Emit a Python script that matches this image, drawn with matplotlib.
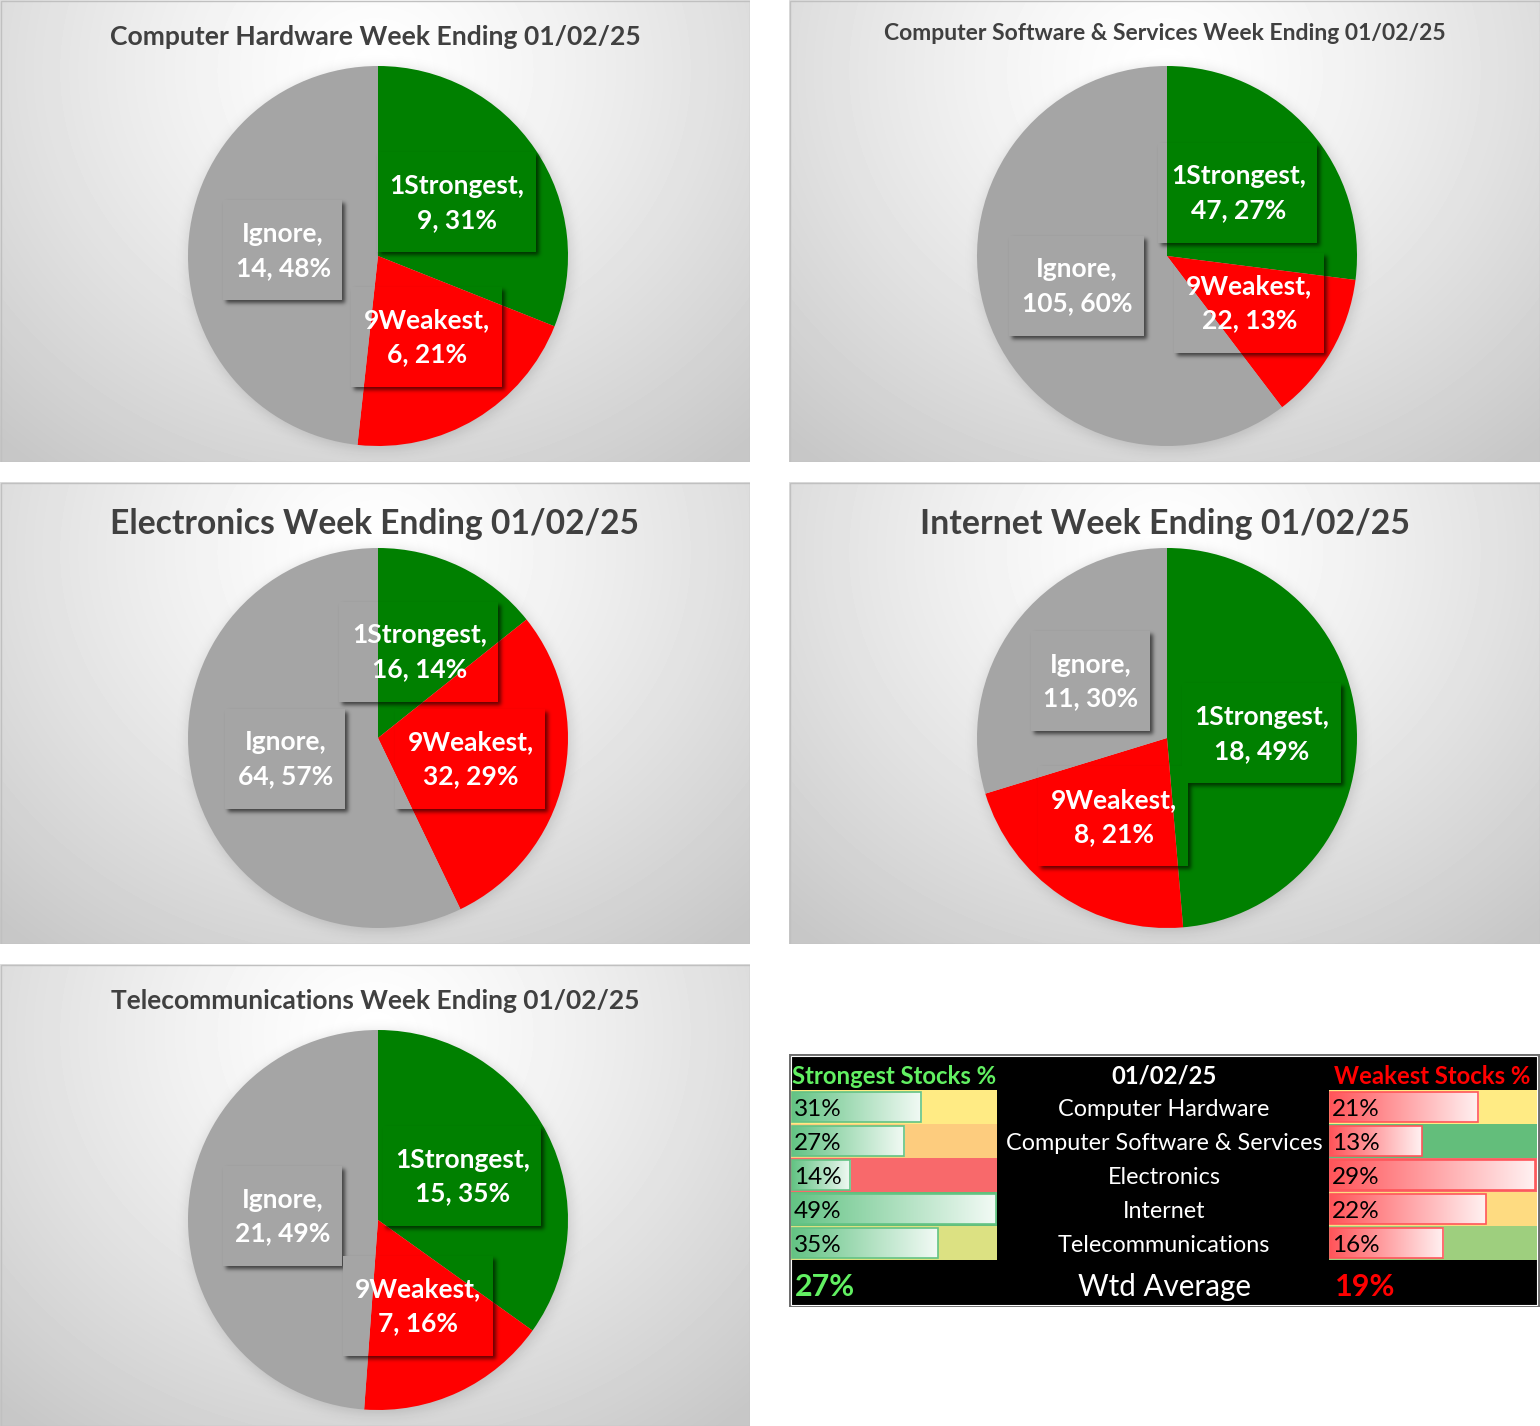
import numpy as np
import matplotlib
matplotlib.use("Agg")
import matplotlib.pyplot as plt
from matplotlib.patches import Rectangle

plt.rcParams['font.family'] = ['Lato', 'DejaVu Sans']

# ---- data ----
week = '01/02/25'
sectors = ['Computer Hardware', 'Computer Software & Services', 'Electronics',
           'Internet', 'Telecommunications']
slice_names = ['1Strongest', '9Weakest', 'Ignore']
strong_n = [9, 47, 16, 18, 15]
weak_n = [6, 22, 32, 8, 7]
ignore_n = [14, 105, 64, 11, 21]
strong_pct = [31, 27, 14, 49, 35]
weak_pct = [21, 13, 29, 21, 16]
ignore_pct = [48, 60, 57, 30, 49]
table_strong = [31, 27, 14, 49, 35]
table_weak = [21, 13, 29, 22, 16]
avg_strong = 27
avg_weak = 19

slice_colors = ['#008000', '#FF0000', '#A5A5A5']

W, H = 1540, 1426
fig = plt.figure(figsize=(W / 100, H / 100), dpi=100)
fig.patch.set_facecolor('white')


def px_axes(x, y, w, h):
    ax = fig.add_axes([x / W, 1 - (y + h) / H, w / W, h / H])
    ax.set_xlim(0, w)
    ax.set_ylim(h, 0)
    ax.axis('off')
    return ax


def blur(a, s):
    k = np.exp(-0.5 * (np.arange(-3 * s, 3 * s + 1) / s) ** 2)
    k /= k.sum()
    a = np.apply_along_axis(lambda r: np.convolve(r, k, mode='same'), 1, a)
    a = np.apply_along_axis(lambda c: np.convolve(c, k, mode='same'), 0, a)
    return a


panels = [(0, 0, 750, 462), (789, 0, 751, 462), (0, 482, 750, 462),
          (789, 482, 751, 462), (0, 964, 750, 462)]
title_widths = [530, 563, 531, 490, 531]
title_y = [37, 34, 42, 42, 37]
cx, cy, R = 378, 256, 190

pie_axes = []
titles = []
label_texts = []
for i, (x, y, w, h) in enumerate(panels):
    ax = px_axes(x, y, w, h)
    # background radial gradient
    yy, xx = np.mgrid[0:h, 0:w]
    d = np.sqrt(((xx - w / 2) / (w * 0.74)) ** 2 + ((yy - 70) / (h * 1.08)) ** 2)
    bg = 1.0 - 0.22 * np.clip(d, 0, 1) ** 1.3
    ax.imshow(bg, cmap='gray', vmin=0, vmax=1, extent=(0, w, h, 0),
              aspect='auto', interpolation='bilinear', zorder=0)
    # soft halo around pie
    circ = (((xx - cx - 1) ** 2 + (yy - cy - 2) ** 2) <= R ** 2).astype(float)
    halo = blur(circ, 7)
    rgba = np.zeros((h, w, 4))
    rgba[..., 3] = 0.16 * halo
    ax.imshow(rgba, extent=(0, w, h, 0), aspect='auto', zorder=0.5)

    vals = [strong_n[i], weak_n[i], ignore_n[i]]
    pcts = [strong_pct[i], weak_pct[i], ignore_pct[i]]
    labels = [f'{n},\n{v}, {p}%' for n, v, p in zip(slice_names, vals, pcts)]
    wedges, texts = ax.pie(vals, colors=slice_colors, startangle=-90,
                           counterclock=True, radius=R, center=(cx, cy),
                           labels=labels, labeldistance=0.5, frame=True,
                           wedgeprops=dict(linewidth=0),
                           textprops=dict(color='white', fontsize=19,
                                          fontweight='bold', linespacing=1.5))
    for t in texts:
        t.set_ha('center')
        t.set_va('center')
        t.set_multialignment('center')
        t.set_zorder(4)
    label_texts.append(texts)
    ttl = ax.text(w / 2, title_y[i], f'{sectors[i]} Week Ending {week}',
                  ha='center', va='center', fontsize=18, fontweight='bold',
                  color='#404040', zorder=5)
    titles.append(ttl)
    ax.add_patch(Rectangle((0.5, 0.5), w - 1, h - 1, fc='none', ec='#c0c0c0',
                           lw=1, zorder=6))
    ax.set_aspect('auto')
    ax.set_xlim(0, w)
    ax.set_ylim(h, 0)
    ax.axis('off')
    pie_axes.append(ax)

# ---- table ----
tx, ty, tw, th = 789, 1054, 751, 253
tax = px_axes(tx, ty, tw, th)
tax.add_patch(Rectangle((0.5, 0.5), tw - 1.5, th - 1, fc='black', ec='#6e6e6e', lw=1.6))
tax.add_patch(Rectangle((2.2, 2.2), tw - 5, th - 4.4, fc='none', ec='white', lw=0.8))

RED = np.array([248, 105, 107])
YEL = np.array([255, 235, 132])
GRN = np.array([99, 190, 123])


def scale_color(v, vals, low_good=False):
    lo, mid, hi = min(vals), float(np.percentile(vals, 50)), max(vals)
    c_lo, c_hi = (GRN, RED) if low_good else (RED, GRN)
    if v <= mid:
        c = c_lo + (YEL - c_lo) * (v - lo) / (mid - lo)
    else:
        c = YEL + (c_hi - YEL) * (v - mid) / (hi - mid)
    return c / 255


def data_bar(x0, top, L, color):
    col = np.array(matplotlib.colors.to_rgb(color))
    f = np.linspace(0, 1, 200)[:, None]
    grad = (col * (1 - f * 0.92) + np.ones(3) * f * 0.92)[None, :, :]
    tax.imshow(grad, extent=(x0, x0 + L, top + 32, top + 2), aspect='auto',
               interpolation='bilinear', zorder=2)
    tax.add_patch(Rectangle((x0, top + 2), L, 30, fc='none', ec=color, lw=1.2, zorder=3))


row0, rh = 36, 34
c1x, c1w = 2, 206
c3x, c3w = 540, 208
for j in range(len(sectors)):
    top = row0 + rh * j
    tax.add_patch(Rectangle((c1x, top), c1w, rh, fc=scale_color(table_strong[j], table_strong),
                            ec='none', zorder=1))
    tax.add_patch(Rectangle((c3x, top), c3w, rh,
                            fc=scale_color(table_weak[j], table_weak, low_good=True),
                            ec='none', zorder=1))
    data_bar(c1x + 1, top, (c1w - 2) * table_strong[j] / max(table_strong), '#63C384')
    data_bar(c3x + 1, top, (c3w - 3) * table_weak[j] / max(table_weak), '#FF555A')
    tax.text(c1x + 3, top + 19, f'{table_strong[j]}%', ha='left', va='center',
             fontsize=17.5, color='black', zorder=4)
    tax.text(c3x + 3, top + 19, f'{table_weak[j]}%', ha='left', va='center',
             fontsize=17.5, color='black', zorder=4)
    tax.text(375, top + 19, sectors[j], ha='center', va='center', fontsize=16.8,
             color='white', zorder=4)

tax.text(c1x + c1w / 2, 22, 'Strongest Stocks %', ha='center', va='center',
         fontsize=17.2, fontweight='bold', color='#62F062')
tax.text(375, 22, week, ha='center', va='center', fontsize=17.2,
         fontweight='bold', color='white')
tax.text(c3x + c3w / 2 - 1, 22, 'Weakest Stocks %', ha='center', va='center',
         fontsize=17.2, fontweight='bold', color='#FF0000')
tax.text(6, 233, f'{avg_strong}%', ha='left', va='center', fontsize=22,
         fontweight='bold', color='#62F062')
tax.text(375, 233, 'Wtd Average', ha='center', va='center', fontsize=21.3,
         color='white')
tax.text(546, 233, f'{avg_weak}%', ha='left', va='center', fontsize=22,
         fontweight='bold', color='#FF0000')
tax.set_xlim(0, tw)
tax.set_ylim(th, 0)

# ---- fit titles, add label box shadows ----
fig.canvas.draw()
renderer = fig.canvas.get_renderer()
for t, target in zip(titles, title_widths):
    wdt = t.get_window_extent(renderer).width
    t.set_fontsize(t.get_fontsize() * target / wdt)

for i, ax in enumerate(pie_axes):
    x, y, w, h = panels[i]
    inv = ax.transData.inverted()
    boxes = []
    for t in label_texts[i]:
        bb = t.get_window_extent(renderer)
        (ax0, ay0), (ax1, ay1) = inv.transform([[bb.x0, bb.y0], [bb.x1, bb.y1]])
        mx, my = (ax0 + ax1) / 2, (ay0 + ay1) / 2
        bw, bh = abs(ax1 - ax0) + 24, 100
        boxes.append((int(mx - bw / 2), int(my - bh / 2), int(mx + bw / 2), int(my + bh / 2)))
    m = np.zeros((h, w))
    for (b0, b1, b2, b3) in boxes:
        m[b1 + 3:b3 + 3, b0 + 3:b2 + 3] = 1
    sh = blur(m, 2)
    for (b0, b1, b2, b3) in boxes:
        sh[b1:b3, b0:b2] = 0
    rgba = np.zeros((h, w, 4))
    rgba[..., 3] = 0.6 * sh
    ax.imshow(rgba, extent=(0, w, h, 0), aspect='auto', zorder=2.5)
    ax.set_xlim(0, w)
    ax.set_ylim(h, 0)

fig.savefig('out.png', dpi=100)
